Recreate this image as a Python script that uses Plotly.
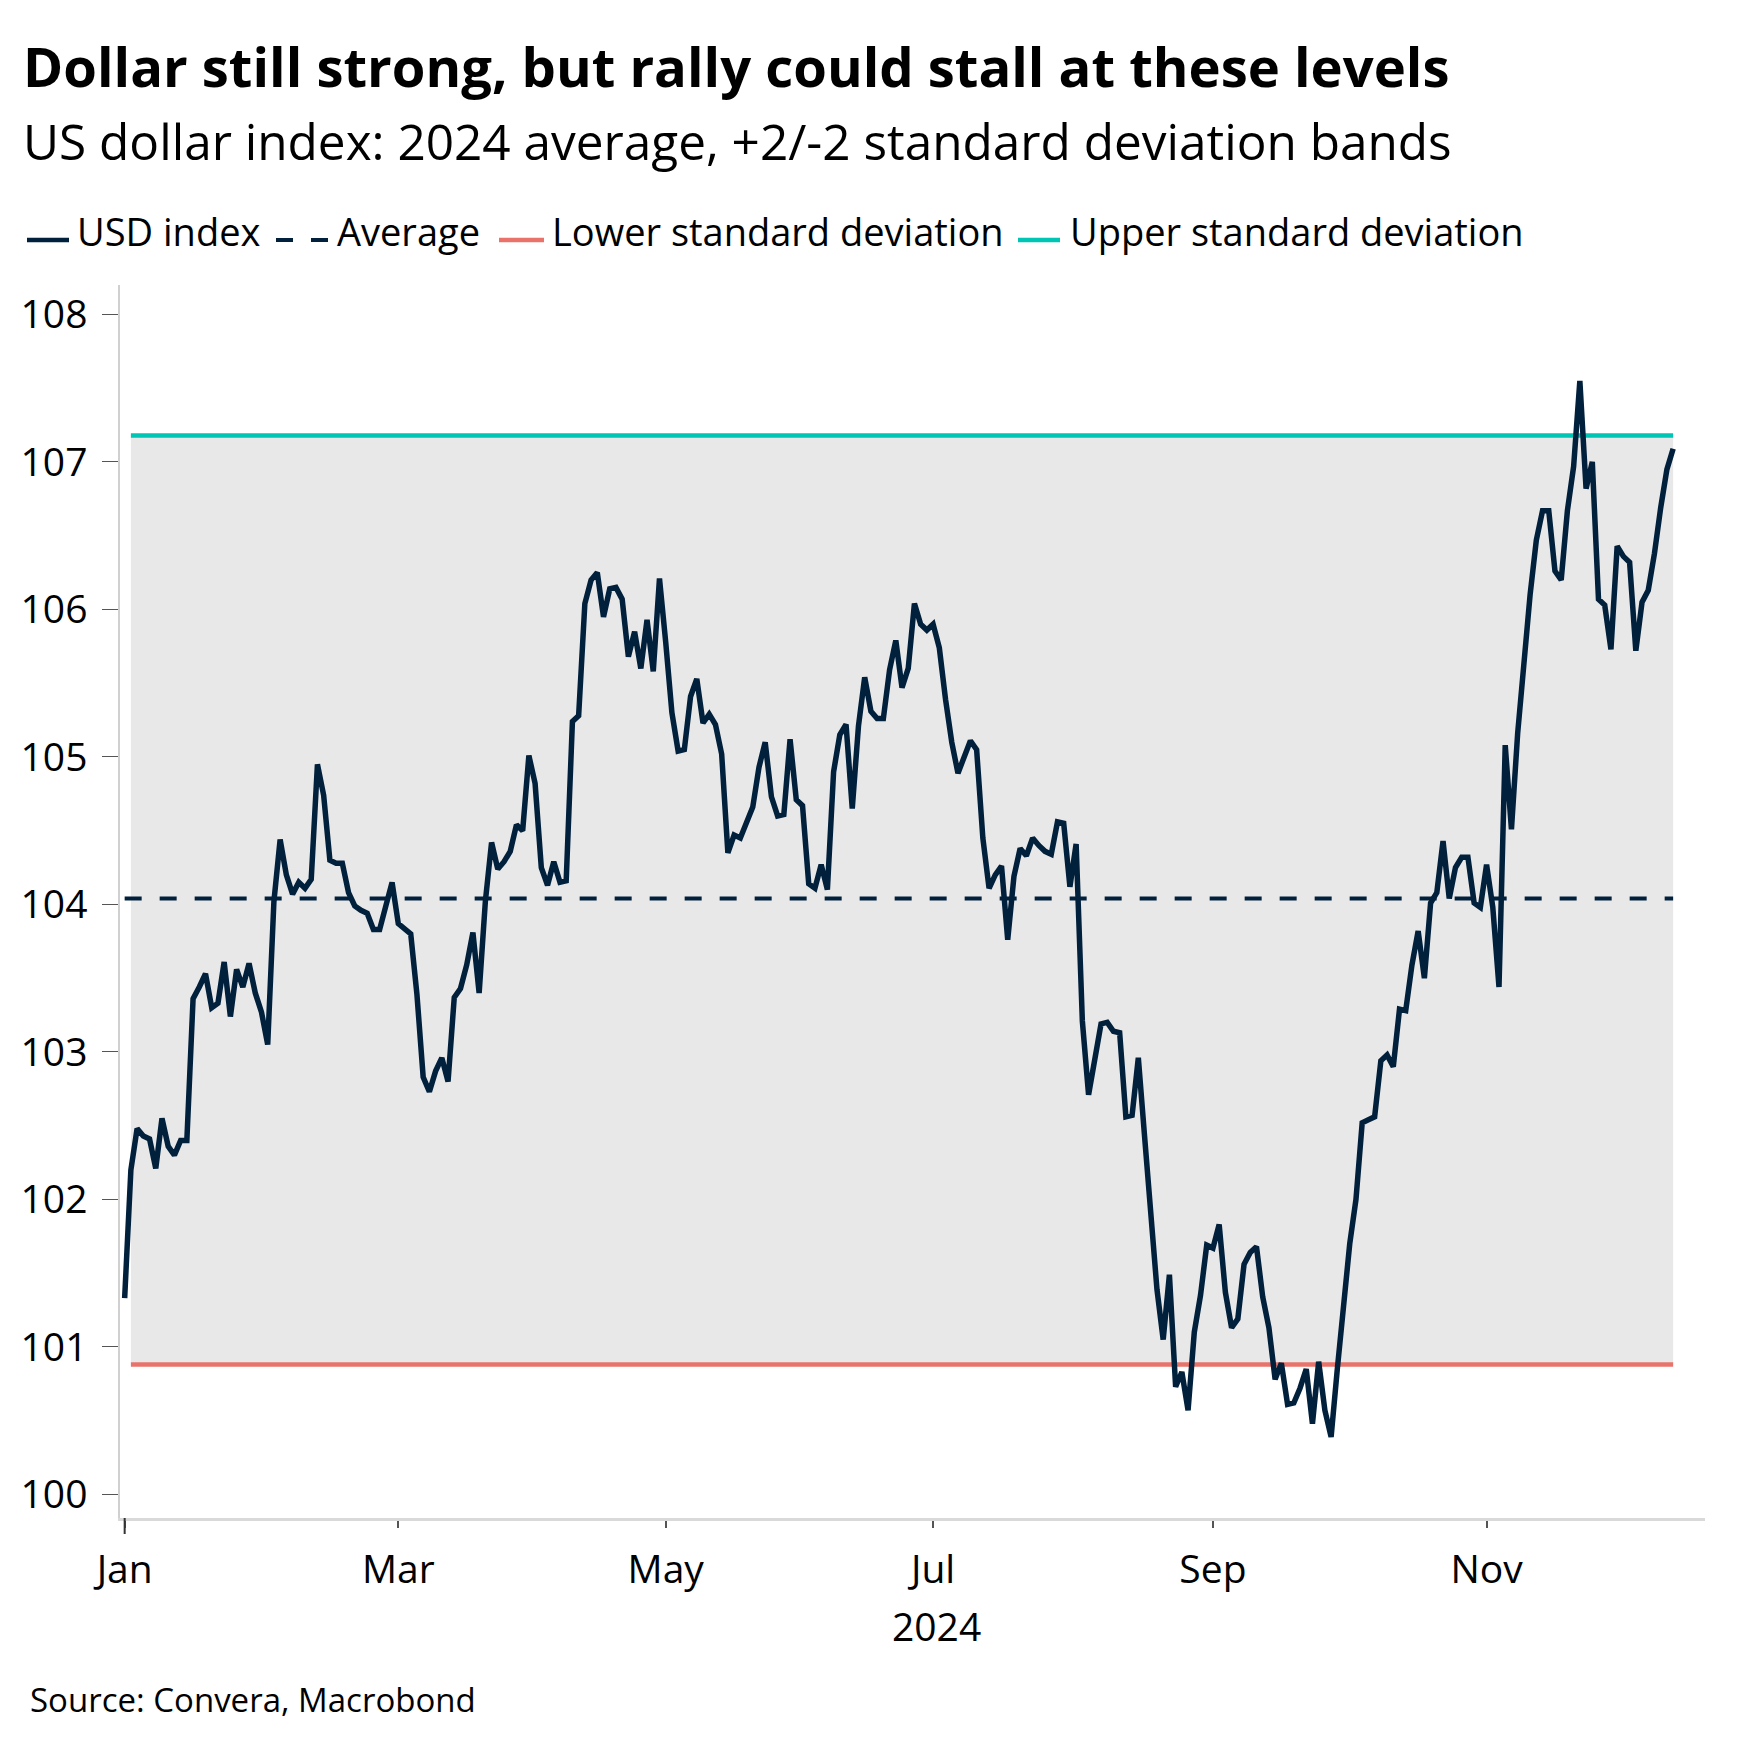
import pandas as pd
import plotly.graph_objects as go

usd_index = [
    101.33, 102.20, 102.48, 102.43, 102.41, 102.21, 102.55, 102.36, 102.30, 102.40,
    102.40, 103.36, 103.44, 103.53, 103.30, 103.33, 103.61, 103.24, 103.56, 103.44,
    103.60, 103.40, 103.27, 103.05, 104.02, 104.44, 104.20, 104.07, 104.15, 104.11,
    104.17, 104.95, 104.74, 104.30, 104.28, 104.28, 104.08, 103.99, 103.96, 103.94,
    103.83, 103.83, 103.99, 104.15, 103.87, 103.83, 103.80, 103.39, 102.83, 102.73,
    102.87, 102.96, 102.80, 103.37, 103.43, 103.59, 103.81, 103.40, 104.02, 104.42,
    104.24, 104.29, 104.36, 104.54, 104.50, 105.01, 104.82, 104.25, 104.13, 104.29,
    104.15, 104.16, 105.24, 105.28, 106.04, 106.20, 106.25, 105.95, 106.14, 106.15,
    106.07, 105.68, 105.85, 105.60, 105.93, 105.58, 106.21, 105.78, 105.30, 105.04,
    105.05, 105.41, 105.53, 105.23, 105.29, 105.22, 105.02, 104.35, 104.47, 104.45,
    104.56, 104.66, 104.93, 105.10, 104.73, 104.60, 104.61, 105.12, 104.71, 104.67,
    104.14, 104.11, 104.27, 104.10, 104.90, 105.15, 105.22, 104.65, 105.21, 105.54,
    105.31, 105.26, 105.26, 105.59, 105.79, 105.47, 105.60, 106.04, 105.90, 105.86,
    105.90, 105.74, 105.39, 105.10, 104.89, 105.01, 105.11, 105.05, 104.45, 104.11,
    104.20, 104.26, 103.76, 104.19, 104.38, 104.33, 104.45, 104.40, 104.36, 104.34,
    104.56, 104.55, 104.12, 104.41, 103.21, 102.71, 102.96, 103.19, 103.20, 103.14,
    103.13, 102.56, 102.57, 102.96, 102.43, 101.87, 101.39, 101.05, 101.49, 100.73,
    100.83, 100.57, 101.10, 101.35, 101.69, 101.67, 101.83, 101.37, 101.13, 101.19,
    101.56, 101.64, 101.68, 101.34, 101.13, 100.78, 100.89, 100.61, 100.62, 100.72,
    100.85, 100.48, 100.90, 100.57, 100.39, 100.85, 101.25, 101.70, 102.00, 102.52,
    102.54, 102.56, 102.94, 102.98, 102.90, 103.29, 103.28, 103.59, 103.82, 103.50,
    104.01, 104.08, 104.43, 104.04, 104.25, 104.32, 104.32, 104.01, 103.98, 104.27,
    103.98, 103.44, 105.08, 104.51, 105.16, 105.65, 106.10, 106.47, 106.67, 106.67,
    106.26, 106.20, 106.67, 106.97, 107.55, 106.82, 107.00, 106.07, 106.03, 105.73,
    106.43, 106.36, 106.32, 105.72, 106.05, 106.13, 106.38, 106.69, 106.95, 107.09,
]
start_date = "2024-01-01"
band_start = "2024-01-02"
average_value = 104.04
lower_sd_value = 100.88
upper_sd_value = 107.18
y_tick_values = [100, 101, 102, 103, 104, 105, 106, 107, 108]
legend_names = ["USD index", "Average", "Lower standard deviation", "Upper standard deviation"]

dates = pd.bdate_range(start_date, periods=len(usd_index))
band_dates = [pd.Timestamp(band_start), dates[-1]]

# ---- styling ----
W, H = 1752, 1755
L, R, T, B = 112, 55, 277, 245
FONT = "Segoe UI, Open Sans, sans-serif"
NAVY = "#00203c"
TEAL = "#00c4b4"
SALMON = "#e9736b"
BAND = "#e8e8e8"
AX = 39
AVG_DASH = "17px,18px"


def px_x(px):
    return (px - L) / (W - L - R)


def px_y(py):
    return (H - B - py) / (H - T - B)


fig = go.Figure()
fig.add_trace(go.Scatter(
    x=band_dates, y=[lower_sd_value] * 2, mode="lines", name=legend_names[2],
    line=dict(color=SALMON, width=4.5), hoverinfo="skip", showlegend=False))
fig.add_trace(go.Scatter(
    x=band_dates, y=[upper_sd_value] * 2, mode="lines", name=legend_names[3],
    line=dict(color=TEAL, width=4.5), fill="tonexty", fillcolor=BAND,
    hoverinfo="skip", showlegend=False))
fig.add_trace(go.Scatter(
    x=[dates[0], dates[-1]], y=[average_value] * 2, mode="lines", name=legend_names[1],
    line=dict(color=NAVY, width=4, dash=AVG_DASH), showlegend=False))
fig.add_trace(go.Scatter(
    x=dates, y=usd_index, mode="lines", name=legend_names[0],
    line=dict(color=NAVY, width=5.5), showlegend=False))

fig.update_layout(
    width=W, height=H,
    margin=dict(l=L, r=R, t=T, b=B),
    paper_bgcolor="white", plot_bgcolor="white",
    font=dict(family=FONT, color="#000000", size=AX),
    showlegend=False,
)
fig.update_xaxes(
    type="date",
    range=["2023-12-29 06:00", "2024-12-20 03:00"],
    rangebreaks=[dict(bounds=["sat", "mon"])],
    tick0="2024-01-01", dtick="M2", tickformat="%b",
    ticks="outside", ticklen=7, tickwidth=1.5, tickcolor="#555555",
    showline=True, linecolor="#d9d9d9", linewidth=2.5,
    showgrid=False, zeroline=False, ticklabelstandoff=8,
    tickfont=dict(size=AX),
)
fig.update_yaxes(
    range=[99.84, 108.2], tickvals=y_tick_values,
    ticks="outside", ticklen=16, tickwidth=1.2, tickcolor="#555555",
    showline=True, linecolor="#d0d0d0", linewidth=1.5,
    showgrid=False, zeroline=False, ticklabelstandoff=7,
    tickfont=dict(size=AX),
)
# longer year-start tick
fig.add_shape(type="line", xref="x", yref="paper", x0=dates[0], x1=dates[0],
              y0=0, y1=px_y(H - B + 16), line=dict(color="#333333", width=2))

# ---- legend (key symbols + labels) ----
legend_styles = [
    dict(color=NAVY, width=4.5, dash="solid"),
    dict(color=NAVY, width=4, dash=AVG_DASH),
    dict(color=SALMON, width=4.5, dash="solid"),
    dict(color=TEAL, width=4.5, dash="solid"),
]
legend_sym_px = [(19, 61), (268, 320), (491, 536), (1010, 1052)]
legend_text_px = [67, 327, 542, 1060]
LEG_Y = 232
for name, style, (s0, s1), tx in zip(legend_names, legend_styles, legend_sym_px, legend_text_px):
    fig.add_shape(type="line", xref="paper", yref="paper",
                  x0=px_x(s0), x1=px_x(s1), y0=px_y(LEG_Y), y1=px_y(LEG_Y),
                  line=style)
    fig.add_annotation(text=name, xref="paper", yref="paper", x=px_x(tx), y=px_y(LEG_Y - 9),
                       xanchor="left", yanchor="middle", showarrow=False,
                       font=dict(size=38, family=FONT))

fig.add_annotation(text="<b>Dollar still strong, but rally could stall at these levels</b>",
                   xref="paper", yref="paper", x=px_x(13), y=px_y(58),
                   xanchor="left", yanchor="middle", showarrow=False,
                   font=dict(size=54.4, family=FONT))
fig.add_annotation(text="US dollar index: 2024 average, +2/-2 standard deviation bands",
                   xref="paper", yref="paper", x=px_x(13), y=px_y(133),
                   xanchor="left", yanchor="middle", showarrow=False,
                   font=dict(size=49.5, family=FONT))
fig.add_annotation(text="2024", xref="x", yref="paper", x="2024-07-01 12:00", y=px_y(1618),
                   xanchor="center", yanchor="middle", showarrow=False,
                   font=dict(size=AX, family=FONT))
fig.add_annotation(text="Source: Convera, Macrobond", xref="paper", yref="paper",
                   x=px_x(20), y=px_y(1691), xanchor="left", yanchor="middle",
                   showarrow=False, font=dict(size=33, family=FONT))

fig.write_html("out.html")
